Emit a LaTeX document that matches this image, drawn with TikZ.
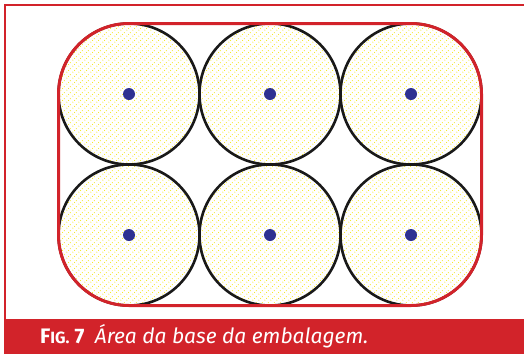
\documentclass[tikz,border=0pt]{standalone}
\usepackage{fontspec}
\setmainfont{Fira Sans}
\usetikzlibrary{patterns}
\definecolor{capred}{HTML}{D2232A}
\definecolor{dotblue}{HTML}{2E3192}
\definecolor{dotyellow}{HTML}{F4E41C}
% diagonal rows of small dots
\pgfdeclarepatternformonly{candots}{\pgfpointorigin}{\pgfpoint{6pt}{6pt}}{\pgfpoint{6pt}{6pt}}{%
    \pgfpathcircle{\pgfpoint{1pt}{1pt}}{0.6pt}%
    \pgfpathcircle{\pgfpoint{3pt}{3pt}}{0.6pt}%
    \pgfpathcircle{\pgfpoint{5pt}{5pt}}{0.6pt}%
    \pgfusepath{fill}}
\begin{document}
\begin{tikzpicture}[x=1pt, y=-1pt,
    can/.style={circle, draw=black!90, line width=2.6pt, minimum size=141pt, inner sep=0pt, pattern=candots, pattern color=dotyellow},
    axis/.style={circle, fill=dotblue, minimum size=12pt, inner sep=0pt},
    caption/.style={anchor=base west, text=white, inner sep=0pt}
]
    \useasboundingbox (0,0) rectangle (524,354);
    % frame and caption band
    \draw[capred, line width=1.6pt] (5,319) -- (5,4.8) -- (524,4.8);
    \fill[capred] (4,319) rectangle (524,354);
    \node[caption] (fig) at (40,343) {\fontsize{21}{21}\selectfont\bfseries F{\fontsize{16.3}{16}\selectfont IG.} 7\enspace\mdseries\itshape Área da base da embalagem.};

    % cans
    \foreach \col/\x in {1/129, 2/270, 3/411}
        \foreach \row/\y in {1/94, 2/235} {
            \node[can] (can\row\col) at (\x,\y) {};
            \node[axis] (axis\row\col) at (\x,\y) {};
        }

    % base outline
    \draw[capred, line width=3pt, rounded corners=70.5pt] (58.5,23.5) rectangle (481.5,305.5);
\end{tikzpicture}
\end{document}
